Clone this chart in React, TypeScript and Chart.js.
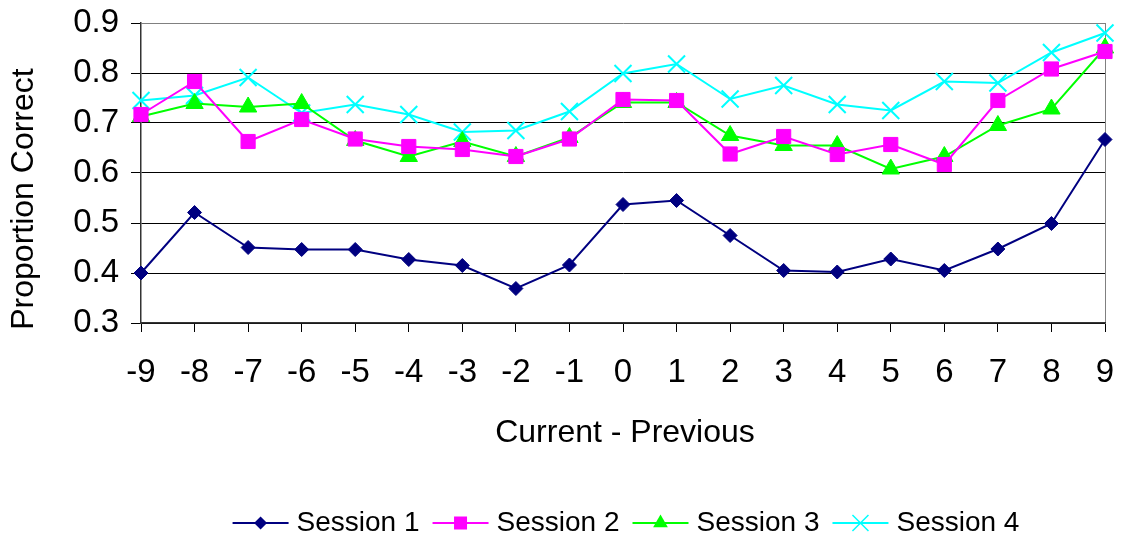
import { useEffect, useRef } from "react";
import { Chart, registerables } from "chart.js";

Chart.register(...registerables);

// Difference between current and previous stimulus
const differences = ["-9", "-8", "-7", "-6", "-5", "-4", "-3", "-2", "-1", "0", "1", "2", "3", "4", "5", "6", "7", "8", "9"];

// Proportion correct per session
const session1 = [0.400, 0.521, 0.451, 0.447, 0.447, 0.427, 0.415, 0.369, 0.416, 0.537, 0.545, 0.475, 0.405, 0.402, 0.428, 0.405, 0.448, 0.499, 0.667];
const session2 = [0.717, 0.783, 0.663, 0.707, 0.668, 0.653, 0.647, 0.633, 0.668, 0.747, 0.745, 0.638, 0.673, 0.637, 0.657, 0.617, 0.745, 0.808, 0.843];
const session3 = [0.713, 0.739, 0.732, 0.739, 0.665, 0.633, 0.663, 0.633, 0.671, 0.741, 0.741, 0.675, 0.655, 0.655, 0.608, 0.633, 0.695, 0.728, 0.850];
const session4 = [0.745, 0.755, 0.791, 0.720, 0.737, 0.717, 0.682, 0.685, 0.723, 0.799, 0.818, 0.748, 0.775, 0.737, 0.725, 0.783, 0.780, 0.841, 0.880];

const seriesNames = ["Session 1", "Session 2", "Session 3", "Session 4"];
const seriesColors = ["#000080", "#FF00FF", "#00FF00", "#00FFFF"];

const yMin = 0.3;
const yMax = 0.9;
const yStep = 0.1;

const xTitle = "Current - Previous";
const yTitle = "Proportion Correct";

const FONT = '"Liberation Sans", Arial, Helvetica, sans-serif';

type Marker = "diamond" | "square" | "triangle" | "cross";
const legendMarkers: Marker[] = ["diamond", "square", "triangle", "cross"];

function drawMarker(ctx: CanvasRenderingContext2D, kind: Marker, x: number, y: number, color: string) {
  ctx.save();
  ctx.fillStyle = color;
  ctx.strokeStyle = color;
  ctx.beginPath();
  if (kind === "diamond") {
    const r = 6.5;
    ctx.moveTo(x - r, y);
    ctx.lineTo(x, y - r);
    ctx.lineTo(x + r, y);
    ctx.lineTo(x, y + r);
    ctx.closePath();
    ctx.fill();
  } else if (kind === "square") {
    const h = 6.5;
    ctx.rect(x - h, y - h, 2 * h, 2 * h);
    ctx.fill();
  } else if (kind === "triangle") {
    const r = 8.5;
    ctx.moveTo(x, y - r);
    ctx.lineTo(x + r * 0.866, y + r * 0.5);
    ctx.lineTo(x - r * 0.866, y + r * 0.5);
    ctx.closePath();
    ctx.fill();
  } else {
    const h = 8;
    ctx.lineWidth = 1.5;
    ctx.moveTo(x - h, y - h);
    ctx.lineTo(x + h, y + h);
    ctx.moveTo(x + h, y - h);
    ctx.lineTo(x - h, y + h);
    ctx.stroke();
  }
  ctx.restore();
}

// Axis captions and the series key under the plot
const captionsPlugin = {
  id: "captions",
  afterDraw(chart: Chart) {
    const { ctx, chartArea } = chart;
    const midX = (chartArea.left + chartArea.right) / 2;
    ctx.save();
    ctx.fillStyle = "#000";
    ctx.textBaseline = "middle";
    ctx.textAlign = "center";
    ctx.font = `32px ${FONT}`;
    ctx.fillText(xTitle, midX + 2, 433);

    ctx.save();
    ctx.translate(24, 199);
    ctx.rotate(-Math.PI / 2);
    ctx.fillText(yTitle, 0, 0);
    ctx.restore();

    // key
    ctx.font = `28px ${FONT}`;
    ctx.textAlign = "left";
    const symbolW = 56;
    const gapText = 8;
    const gapItem = 13;
    const widths = seriesNames.map((n) => ctx.measureText(n).width);
    const total = widths.reduce((a, w) => a + symbolW + gapText + w, 0) + gapItem * (seriesNames.length - 1);
    let x = midX + 3 - total / 2;
    const y = 523;
    seriesNames.forEach((name, i) => {
      ctx.save();
      ctx.strokeStyle = seriesColors[i];
      ctx.lineWidth = 2;
      ctx.beginPath();
      ctx.moveTo(x, y);
      ctx.lineTo(x + symbolW, y);
      ctx.stroke();
      ctx.restore();
      drawMarker(ctx, legendMarkers[i], x + symbolW / 2, y, seriesColors[i]);
      ctx.fillStyle = "#000";
      ctx.fillText(name, x + symbolW + gapText, y);
      x += symbolW + gapText + widths[i] + gapItem;
    });
    ctx.restore();
  },
};

function clearScalePadding(scale: any) {
  scale.paddingTop = 0;
  scale.paddingBottom = 0;
  scale.paddingLeft = 0;
  scale.paddingRight = 0;
}

export default function App() {
  const canvasRef = useRef<HTMLCanvasElement | null>(null);

  useEffect(() => {
    const canvas = canvasRef.current;
    if (!canvas) return;
    const values = [session1, session2, session3, session4];
    const pointStyles = ["rectRot", "rect", "triangle", "crossRot"];
    const radii = [7, 10, 10, 12];

    const chart = new Chart(canvas, {
      type: "line",
      data: {
        labels: differences,
        datasets: values.map((data, i) => ({
          label: seriesNames[i],
          data,
          borderColor: seriesColors[i],
          backgroundColor: seriesColors[i],
          borderWidth: 2,
          pointStyle: pointStyles[i] as any,
          pointRadius: radii[i],
          pointHoverRadius: radii[i],
          pointBackgroundColor: seriesColors[i],
          pointBorderColor: seriesColors[i],
          pointBorderWidth: i === 3 ? 2 : 1,
          tension: 0,
          fill: false,
          clip: false as any,
        })),
      },
      options: {
        animation: false,
        responsive: false,
        devicePixelRatio: 1,
        layout: { autoPadding: false, padding: { top: 23, right: 23, bottom: 0, left: 0 } },
        plugins: {
          legend: { display: false },
          tooltip: { enabled: false },
          title: { display: false },
        },
        scales: {
          x: {
            type: "category",
            offset: false,
            afterFit: (scale: any) => {
              scale.height = 219;
              clearScalePadding(scale);
            },
            grid: {
              color: (c: any) => (c.index === differences.length - 1 ? "#808080" : "rgba(0,0,0,0)"),
              tickColor: "#000",
              tickLength: 9,
              lineWidth: 1,
            },
            border: { display: true, color: "#333", width: 1.5 },
            ticks: {
              color: "#000",
              font: { family: FONT, size: 33 },
              padding: 21,
              maxRotation: 0,
              autoSkip: false,
            },
          },
          y: {
            type: "linear",
            min: yMin,
            max: yMax,
            afterFit: (scale: any) => {
              scale.width = 141;
              clearScalePadding(scale);
            },
            ticks: {
              stepSize: yStep,
              color: "#000",
              font: { family: FONT, size: 33 },
              padding: 12,
              callback: (v: any) => Number(v).toFixed(1),
            },
            grid: {
              color: (c: any) => (c.tick && Math.abs(c.tick.value - yMax) < 1e-6 ? "#808080" : "#000"),
              tickColor: "#000",
              tickLength: 10,
              lineWidth: 1,
            },
            border: { display: true, color: "#333", width: 1.5 },
          },
        },
      },
      plugins: [captionsPlugin],
    });

    return () => chart.destroy();
  }, []);

  return (
    <div style={{ position: "absolute", left: 0, top: 0, width: 1128, height: 542, background: "#fff" }}>
      <canvas ref={canvasRef} width={1128} height={542} />
    </div>
  );
}
